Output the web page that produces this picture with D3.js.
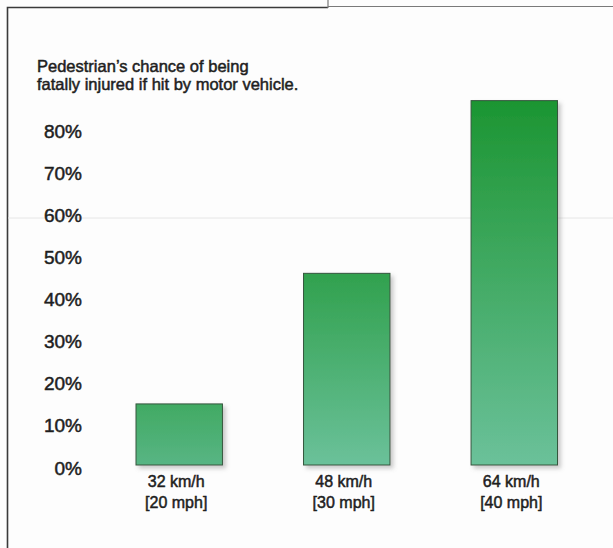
<!DOCTYPE html>
<html>
<head>
<meta charset="utf-8">
<script src="https://cdn.jsdelivr.net/npm/d3@7/dist/d3.min.js"></script>
<style>
  html, body { margin: 0; padding: 0; background: #fdfdfd; }
  svg { display: block; }
  text { font-family: "Liberation Sans", Arial, Helvetica, sans-serif; fill: #1e1e1e; }
</style>
</head>
<body>
<script>
// ---- data ----
const categories = ["32 km/h", "48 km/h", "64 km/h"];
const categoriesMph = ["[20 mph]", "[30 mph]", "[40 mph]"];
const values = [14.5, 45.5, 86.5];
const tickValues = [0, 10, 20, 30, 40, 50, 60, 70, 80];
const titleLines = ["Pedestrian\u2019s chance of being", "fatally injured if hit by motor vehicle."];

const W = 613, H = 548;
const svg = d3.select("body").append("svg").attr("width", W).attr("height", H);

svg.append("rect").attr("width", W).attr("height", H).attr("fill", "#fdfdfd");

// frame (scanned page border)
svg.append("path").attr("d", "M7.5,548 V7.5 H328").attr("fill", "none")
  .attr("stroke", "#3a3a3a").attr("stroke-width", 1.6);
svg.append("path").attr("d", "M328,0 V8 M328,6.5 H613").attr("fill", "none")
  .attr("stroke", "#7a7a7a").attr("stroke-width", 1.2);
// faint fold line
svg.append("line").attr("x1", 8).attr("x2", W).attr("y1", 218).attr("y2", 218)
  .attr("stroke", "#e6e6e6").attr("stroke-width", 1);

const y = d3.scaleLinear().domain([0, 80]).range([465, 128]);
const x = d3.scaleBand().domain(categories).range([136, 557.5]).paddingInner(0.484).paddingOuter(0);

const defs = svg.append("defs");
const f = defs.append("filter").attr("id", "sh").attr("x", "-20%").attr("y", "-20%").attr("width", "150%").attr("height", "150%");
f.append("feDropShadow").attr("dx", 3).attr("dy", 3).attr("stdDeviation", 2)
  .attr("flood-color", "#8a8a8a").attr("flood-opacity", 0.45);

const dark = "#1c9532", light = "#6cc29c";
const maxV = d3.max(values);
values.forEach((v, i) => {
  const t = 0.45 + 0.55 * v / maxV;
  const g = defs.append("linearGradient").attr("id", "g" + i)
    .attr("x1", 0).attr("y1", 0).attr("x2", 0).attr("y2", 1);
  g.append("stop").attr("offset", "0%").attr("stop-color", d3.interpolateRgb(light, dark)(t));
  g.append("stop").attr("offset", "100%").attr("stop-color", d3.interpolateRgb(light, "#4fb079")(t < 0.6 ? 0.7 : 0.05));
});

const bold = sel => sel.style("stroke", "#1e1e1e").style("stroke-width", 0.5).style("paint-order", "stroke");

// title
svg.append("g").selectAll("text").data(titleLines).join("text")
  .attr("x", 37).attr("y", (d, i) => 72 + i * 18)
  .attr("font-size", 16.5)
  .call(bold)
  .text(d => d);

// y axis labels
const yAxis = d3.axisLeft(y).tickValues(tickValues).tickFormat(d => d + "%").tickSize(0).tickPadding(0);
const ya = svg.append("g").attr("transform", "translate(82,3)").call(yAxis);
ya.select(".domain").remove();
ya.selectAll("text").attr("font-size", 19).attr("fill", "#1e1e1e")
  .style("font-family", '"Liberation Sans", Arial, sans-serif')
  .call(bold);

// bars
svg.append("g").selectAll("rect").data(values).join("rect")
  .attr("x", (d, i) => x(categories[i]))
  .attr("y", d => y(d))
  .attr("width", x.bandwidth())
  .attr("height", d => y(0) - y(d))
  .attr("fill", (d, i) => `url(#g${i})`)
  .attr("stroke", "#35563d").attr("stroke-width", 1)
  .attr("filter", "url(#sh)");

// x labels
const xl = svg.append("g");
categories.forEach((c, i) => {
  const cx = x(c) + x.bandwidth() / 2 - 3;
  const t = xl.append("text").attr("text-anchor", "middle").attr("font-size", 16)
    .call(bold);
  t.append("tspan").attr("x", cx).attr("y", 487).text(c);
  t.append("tspan").attr("x", cx).attr("y", 508).text(categoriesMph[i]);
});
</script>
</body>
</html>
